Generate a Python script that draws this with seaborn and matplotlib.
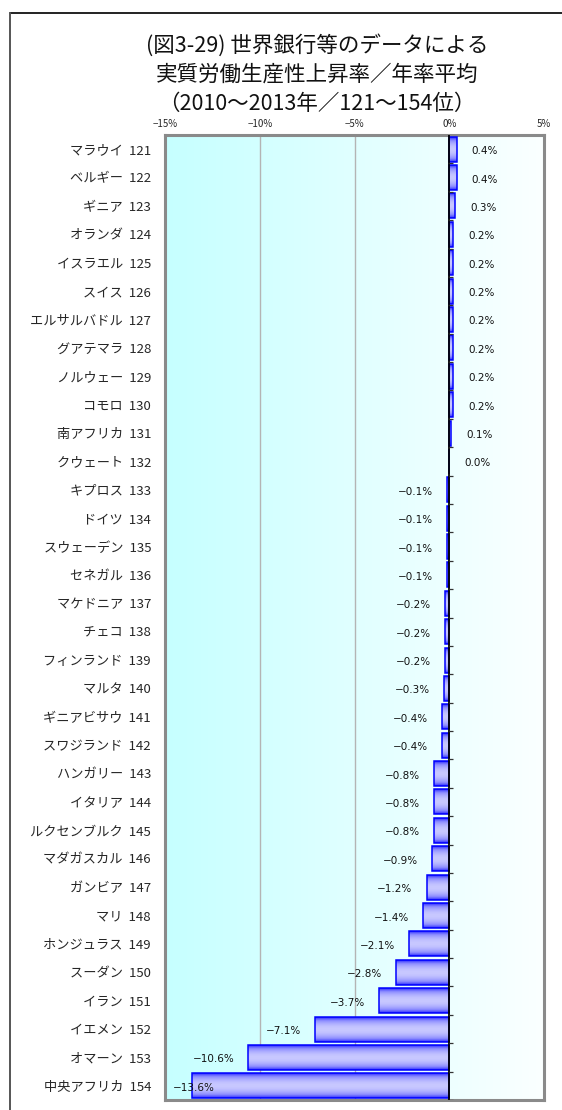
import numpy as np
import pandas as pd
import matplotlib
matplotlib.use("Agg")
import matplotlib.pyplot as plt
import seaborn as sns
from matplotlib.colors import LinearSegmentedColormap
from matplotlib.lines import Line2D

# Real labour productivity growth, annual average 2010-2013 (ranks 121-154)
countries = [
    "マラウイ", "ベルギー", "ギニア", "オランダ", "イスラエル", "スイス",
    "エルサルバドル", "グアテマラ", "ノルウェー", "コモロ", "南アフリカ",
    "クウェート", "キプロス", "ドイツ", "スウェーデン", "セネガル",
    "マケドニア", "チェコ", "フィンランド", "マルタ", "ギニアビサウ",
    "スワジランド", "ハンガリー", "イタリア", "ルクセンブルク",
    "マダガスカル", "ガンビア", "マリ", "ホンジュラス", "スーダン",
    "イラン", "イエメン", "オマーン", "中央アフリカ",
]
ranks = list(range(121, 155))
values = [
    0.4, 0.4, 0.3, 0.2, 0.2, 0.2, 0.2, 0.2, 0.2, 0.2, 0.1, 0.0,
    -0.1, -0.1, -0.1, -0.1, -0.2, -0.2, -0.2, -0.3, -0.4, -0.4,
    -0.8, -0.8, -0.8, -0.9, -1.2, -1.4, -2.1, -2.8, -3.7, -7.1,
    -10.6, -13.6,
]
x_ticks = [-15, -10, -5, 0, 5]
title_lines = [
    "(図3-29) 世界銀行等のデータによる",
    "実質労働生産性上昇率／年率平均",
    "（2010～2013年／121～154位）",
]

sns.set_theme(style="white")
plt.rcParams["font.family"] = ["Noto Sans CJK JP", "DejaVu Sans"]
plt.rcParams["axes.unicode_minus"] = True

W, H = 562, 1110
fig = plt.figure(figsize=(W / 100, H / 100), dpi=100)
fig.patch.set_facecolor("white")
ax = fig.add_axes([165 / W, 1 - 1100 / H, (544 - 165) / W, (1100 - 135) / H])

labels = [f"{c}  {r}" for c, r in zip(countries, ranks)]
df = pd.DataFrame({"label": labels, "value": values})
sns.barplot(data=df, x="value", y="label", orient="h", width=0.88,
            color="#9999ff", edgecolor="#0000ff", linewidth=1.1,
            ax=ax, zorder=3)

n = len(values)
xmin, xmax = x_ticks[0], x_ticks[-1]
ylo, yhi = n - 0.5, -0.5

# horizontal cyan-to-white background of the plot area
bg_cmap = LinearSegmentedColormap.from_list("bg", ["#c6ffff", "#fbffff"])
ax.set_facecolor("none")
ax.imshow(np.linspace(0, 1, 256).reshape(1, -1), cmap=bg_cmap,
          extent=[xmin, xmax, ylo, yhi], aspect="auto", zorder=0)

# vertical shading inside each bar
bar_cmap = LinearSegmentedColormap.from_list(
    "bar", ["#2020ff", "#8c8cff", "#c8c8ff"])
prof = np.sin(np.linspace(0, np.pi, 64)) ** 0.8
for p in ax.patches:
    x0, y0, w, h = p.get_x(), p.get_y(), p.get_width(), p.get_height()
    p.set_facecolor("none")
    im = ax.imshow(prof.reshape(-1, 1), cmap=bar_cmap, vmin=0, vmax=1,
                   extent=[min(x0, x0 + w), max(x0, x0 + w), y0 + h, y0],
                   aspect="auto", zorder=2)
    im.set_clip_path(p)

ax.set_xlim(xmin, xmax)
ax.set_ylim(ylo, yhi)

# grid and zero line
for gx in x_ticks[1:3]:
    ax.axvline(gx, color="#b4b4b4", lw=1.0, zorder=1)
ax.axvline(0, color="black", lw=1.3, zorder=4)
ax.hlines(np.arange(n) + 0.5, 0, 0.22, color="#333333", lw=0.9, zorder=4)

# axes styling
for s in ax.spines.values():
    s.set_visible(True)
    s.set_color("#8a8a8a")
    s.set_linewidth(2.2)
ax.xaxis.tick_top()
ax.set_xticks(x_ticks)
ax.set_xticklabels([f"{v}%".replace("-", "−") for v in x_ticks])
ax.tick_params(axis="x", length=0, pad=4, labelsize=7)
ax.tick_params(axis="y", length=0, pad=10, labelsize=9.5)
ax.set_xlabel("")
ax.set_ylabel("")

# value labels
lab_family = ["Liberation Sans Narrow", "DejaVu Sans"]
texts = []
for i, v in enumerate(values):
    s = f"{v:.1f}%".replace("-", "−")
    if v >= 0:
        t = ax.annotate(s, (v, i), xytext=(15, -2), textcoords="offset pixels",
                        ha="left", va="center", fontsize=7.5, family=lab_family,
                        color="#111111", zorder=5)
    else:
        t = ax.annotate(s, (v, i), xytext=(-14, -2), textcoords="offset pixels",
                        ha="right", va="center", fontsize=7.5, family=lab_family,
                        color="#111111", zorder=5)
    texts.append(t)

fig.canvas.draw()
renderer = fig.canvas.get_renderer()
ax_left = ax.get_window_extent(renderer).x0
for i, (t, v) in enumerate(zip(texts, values)):
    if t.get_window_extent(renderer).x0 < ax_left:
        t.xy = (xmin, i)
        t.set_ha("left")
        t.xyann = (8, -2)

# title
for k, line in enumerate(title_lines):
    fig.text(317 / W, 1 - (45 + 29.5 * k) / H, line, ha="center", va="center",
             fontsize=15.5, color="#111111")

# outer chart frame
fig.add_artist(Line2D([10 / W, 1], [1 - 13 / H] * 2, color="#222222", lw=1.4,
                      transform=fig.transFigure))
fig.add_artist(Line2D([10 / W] * 2, [0, 1 - 13 / H], color="#555555", lw=1.4,
                      transform=fig.transFigure))

fig.savefig("out.png", dpi=100)
